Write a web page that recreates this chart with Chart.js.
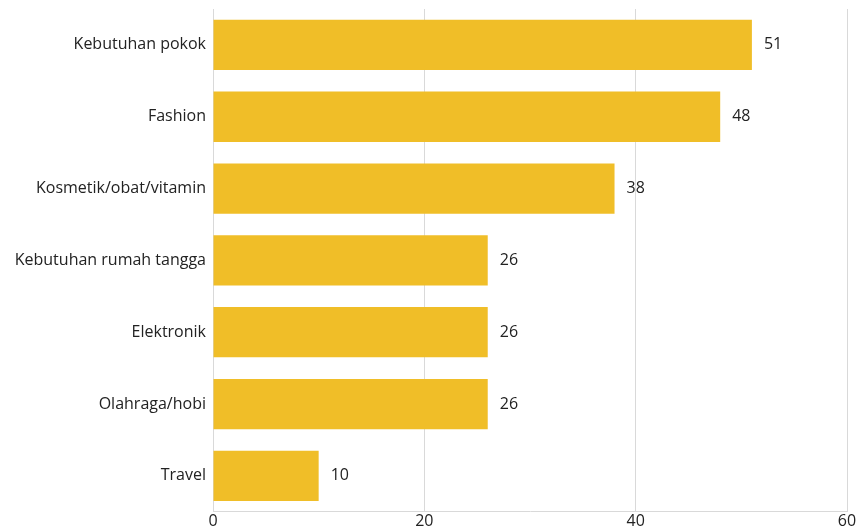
<!DOCTYPE html>
<html>
<head>
<meta charset="utf-8">
<script src="https://cdn.jsdelivr.net/npm/chart.js@4.4.0/dist/chart.umd.min.js"></script>
<style>
  html, body { margin: 0; padding: 0; background: #fff; }
  #wrap { width: 858px; height: 531px; }
</style>
</head>
<body>
<div id="wrap"><canvas id="chart" width="858" height="531"></canvas></div>
<script>
const categories = ['Kebutuhan pokok', 'Fashion', 'Kosmetik/obat/vitamin', 'Kebutuhan rumah tangga', 'Elektronik', 'Olahraga/hobi', 'Travel'];
const values = [51, 48, 38, 26, 26, 26, 10];
const xTicks = [0, 20, 40, 60];

const barColor = '#F0BE28';
const fontFamily = "'Open Sans', 'Noto Sans', sans-serif";

// draws the value next to each bar
const valueLabels = {
    id: 'valueLabels',
    afterDatasetsDraw(chart) {
        const ctx = chart.ctx;
        const meta = chart.getDatasetMeta(0);
        ctx.save();
        ctx.font = '16px ' + fontFamily;
        ctx.fillStyle = '#222';
        ctx.textAlign = 'left';
        ctx.textBaseline = 'middle';
        meta.data.forEach((bar, i) => {
            ctx.fillText(String(values[i]), bar.x + 12, bar.y);
        });
        ctx.restore();
    }
};

new Chart(document.getElementById('chart').getContext('2d'), {
    type: 'bar',
    data: {
        labels: categories,
        datasets: [{
            data: values,
            backgroundColor: barColor,
            borderWidth: 0,
            barPercentage: 0.7,
            categoryPercentage: 1
        }]
    },
    plugins: [valueLabels],
    options: {
        indexAxis: 'y',
        responsive: false,
        animation: false,
        layout: { padding: { top: 9, right: 11, left: 0, bottom: 0 } },
        plugins: {
            legend: { display: false },
            tooltip: { enabled: false }
        },
        scales: {
            x: {
                min: 0,
                max: 60,
                afterBuildTicks: (scale) => { scale.ticks = xTicks.map(v => ({ value: v })); },
                grid: { color: '#d9d9d9', drawTicks: false },
                border: { color: '#d9d9d9' },
                ticks: { color: '#222', font: { family: fontFamily, size: 16 }, padding: 0 }
            },
            y: {
                afterFit: (scale) => {
                    scale.width = 213;
                    scale.paddingTop = 0;
                    scale.paddingBottom = 0;
                },
                grid: { display: false, drawTicks: false },
                border: { color: '#d9d9d9' },
                ticks: { color: '#222', font: { family: fontFamily, size: 16 }, padding: 7 }
            }
        }
    }
});
</script>
</body>
</html>
